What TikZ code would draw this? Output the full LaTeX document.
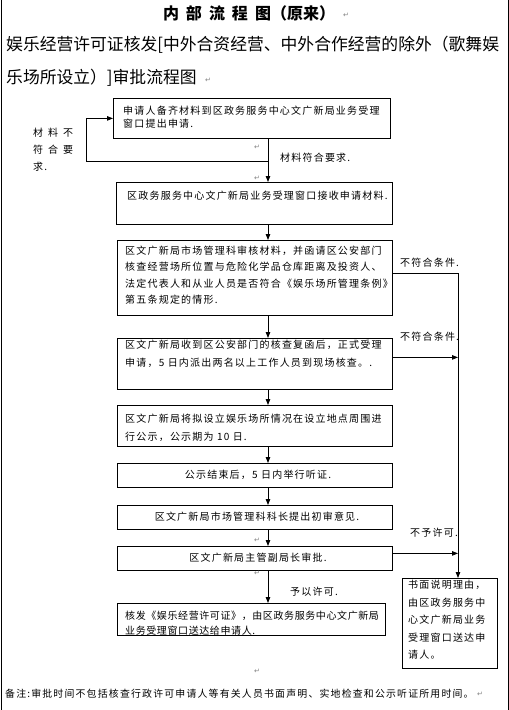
\documentclass[tikz,border=0pt]{standalone}
\usepackage{fontspec}
\setmainfont{Noto Sans CJK SC}
\newfontfamily\boxf[LetterSpace=12]{Noto Sans CJK SC}
\newfontfamily\boxg[LetterSpace=6]{Noto Sans CJK SC}
\newfontfamily\symf{DejaVu Sans}
\usetikzlibrary{arrows.meta,calc}
\begin{document}
\begin{tikzpicture}[x=1pt,y=-1pt,
  box/.style={draw,line width=0.8pt,inner sep=0,anchor=north west},
  txt/.style={inner sep=0,font=\boxf\fontsize{10}{#1}\selectfont,align=left},
  txt/.default=16,
  arr/.style={line width=0.8pt,-{Triangle[length=6pt,width=4.5pt]}},
  ln/.style={line width=0.8pt},
  ret/.style={inner sep=0,font=\symf\fontsize{7}{7}\selectfont,text=gray}]
\useasboundingbox (0,0) rectangle (509,710);
% page frame
\draw[ln] (1,0) -- (1,710);
\draw[ln] (508,0) -- (508,710);
% headings
\node[inner sep=0,font=\bfseries\fontsize{16}{16}\selectfont] (title) at (249,13)
  {内\hspace{7pt}部\hspace{7pt}流\hspace{7pt}程\hspace{7pt}图（原来）};
\node[anchor=west,inner sep=0,font=\fontsize{16.8}{16.8}\selectfont] (h1) at (6,45)
  {娱乐经营许可证核发[中外合资经营、中外合作经营的除外（歌舞娱};
\node[anchor=west,inner sep=0,font=\fontsize{16.8}{16.8}\selectfont] (h2) at (6,78)
  {乐场所设立）]审批流程图};
\node[ret,anchor=west] (r1) at (343,15) {↵};
\node[ret,anchor=west] (r2) at (205,80) {↵};
% coordinates
\coordinate (sp) at (268,0);
\coordinate (rb) at (458,0);
\coordinate (fl) at (86,0);
% boxes
\node[box,minimum width=277pt,minimum height=40pt] (b1) at (113,98) {};
\node[box,minimum width=276pt,minimum height=42pt] (b2) at (116,182) {};
\node[box,minimum width=275pt,minimum height=75pt] (b3) at (117,240) {};
\node[box,minimum width=275pt,minimum height=51pt] (b4) at (117,338) {};
\node[box,minimum width=275pt,minimum height=41pt] (b5) at (117,405) {};
\node[box,minimum width=275pt,minimum height=24pt] (b6) at (117,463) {};
\node[box,minimum width=275pt,minimum height=24pt] (b7) at (117,505) {};
\node[box,minimum width=275pt,minimum height=24pt] (b8) at (117,546) {};
\node[box,minimum width=95pt,minimum height=90pt] (b9) at (402,578) {};
\node[box,minimum width=268pt,minimum height=32pt] (b10) at (117,603) {};
% box texts
\node[txt=13,anchor=north west] (t1) at (123,106) {申请人备齐材料到区政务服务中心文广新局业务受理\\窗口提出申请.};
\node[txt,anchor=west] (t2) at (127,196) {区政务服务中心文广新局业务受理窗口接收申请材料.};
\node[txt=16.3,anchor=north west] (t3) at (125,246) {区文广新局市场管理科审核材料，并函请区公安部门\\核查经营场所位置与危险化学品仓库距离及投资人、\\法定代表人和从业人员是否符合《娱乐场所管理条例》\\第五条规定的情形.};
\node[txt=18,anchor=north west] (t4) at (125,340) {区文广新局收到区公安部门的核查复函后，正式受理\\申请，5 日内派出两名以上工作人员到现场核查。.};
\node[txt=18,anchor=north west] (t5) at (125,414) {区文广新局将拟设立娱乐场所情况在设立地点周围进\\行公示，公示期为 10 日.};
\node[txt] (t6) at (258,475) {公示结束后，5 日内举行听证.};
\node[txt] (t7) at (257,517) {区文广新局市场管理科科长提出初审意见.};
\node[txt] (t8) at (258,558) {区文广新局主管副局长审批.};
\node[txt=15,anchor=north west,font=\boxg\fontsize{10}{15}\selectfont] (t10) at (125,611) {核发《娱乐经营许可证》，由区政务服务中心文广新局\\业务受理窗口送达给申请人.};
\node[txt=17.5,anchor=north west] (t9) at (408,580) {书面说明理由，\\由区政务服务中\\心文广新局业务\\受理窗口送达申\\请人。};
% labels
\node[txt=17,anchor=north west] (l1) at (33,128) {材\hspace{5pt}料\hspace{5pt}不\\符\hspace{5pt}合\hspace{5pt}要\\求.};
\node[txt,anchor=west] (l2) at (280,158) {材料符合要求.};
\node[txt,anchor=west] (l3) at (400,263) {不符合条件.};
\node[txt,anchor=west] (l4) at (400,337) {不符合条件.};
\node[txt,anchor=west] (l5) at (410,533) {不予许可.};
\node[txt,anchor=west] (l6) at (290,592) {予以许可.};
% main spine
\coordinate (j1) at (268,161);
\draw[arr] (b1.south -| sp) -- (b2.north -| sp);
\draw[arr] (j1) -| (fl |- b1.west) -- (b1.west);
\draw[arr] (b2.south -| sp) -- (b3.north -| sp);
\draw[arr] (b3.south -| sp) -- (b4.north -| sp);
\draw[arr] (b4.south -| sp) -- (b5.north -| sp);
\draw[arr] (b5.south -| sp) -- (b6.north -| sp);
\draw[arr] (b6.south -| sp) -- (b7.north -| sp);
\draw[arr] (b7.south -| sp) -- (b8.north -| sp);
\draw[arr] (b8.south -| sp) -- (b10.north -| sp);
% right bus
\coordinate (e3) at ([yshift=4.5pt]b3.east);
\coordinate (e4) at ([yshift=6.5pt]b4.east);
\coordinate (e8) at ([yshift=5pt]b8.east);
\draw[arr] (e3) -| (rb |- b9.north);
\draw[arr] (e4) -- (rb |- e4);
\draw[arr] (e8) -- (rb |- e8);
% paragraph marks
\node[ret] (r3) at (257,147) {↵};
\node[ret] (r4) at (257,178) {↵};
\node[ret] (r5) at (257,540) {↵};
\node[ret] (r6) at (257,573) {↵};
\node[ret] (r7) at (257,671) {↵};
% note
\node[inner sep=0,anchor=west,font=\boxf\fontsize{9.9}{12}\selectfont] (note) at (5,694)
  {备注:审批时间不包括核查行政许可申请人等有关人员书面声明、实地检查和公示听证所用时间。};
\node[ret,anchor=west] (r8) at ([xshift=3pt]note.east) {↵};
\end{tikzpicture}
\end{document}
